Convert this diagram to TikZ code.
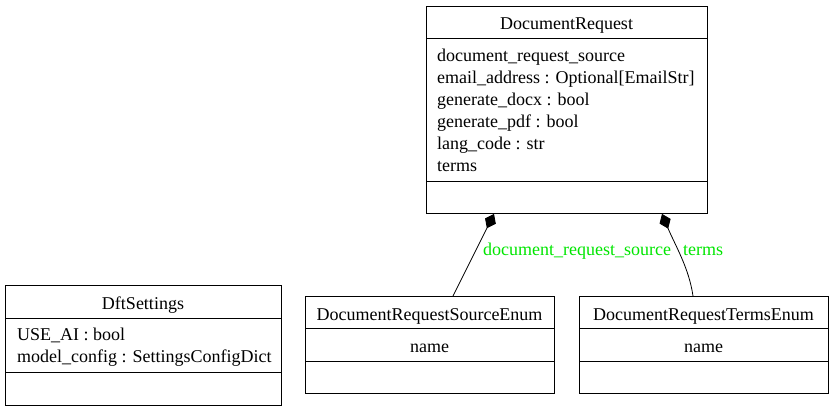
\documentclass[tikz,border=0pt]{standalone}
\usepackage{fontspec}
\setmainfont{Liberation Serif}
\usetikzlibrary{arrows.meta}
\definecolor{lblgreen}{RGB}{0,230,0}
\begin{document}
\begin{tikzpicture}[x=1pt,y=-1pt,
  font=\fontsize{18}{22}\selectfont,
  box/.style={draw, line width=0.9pt, inner sep=0pt, anchor=north west},
  divider/.style={line width=0.9pt},
  title/.style={inner sep=0pt, anchor=base},
  attr/.style={inner sep=0pt, anchor=base west},
  lbl/.style={inner sep=0pt, anchor=base west, text=lblgreen},
  comp/.style={line width=0.8pt, {Diamond[length=16pt,width=12pt]}-}]
\useasboundingbox (0,0) rectangle (830,411);

% DocumentRequest
\node[box, minimum width=281pt, minimum height=207pt] (dr) at (426,6) {};
\draw[divider] (426,38) -- (707,38);
\draw[divider] (426,181) -- (707,181);
\node[title] (drt) at (566.5,29.5) {DocumentRequest};
\node[attr] (dra1) at (437,61.5) {document\_request\_source};
\node[attr] (dra2) at (437,83.5) {email\_address : Optional[EmailStr]};
\node[attr] (dra3) at (437,105.5) {generate\_docx : bool};
\node[attr] (dra4) at (437,127.5) {generate\_pdf : bool};
\node[attr] (dra5) at (437,149.5) {lang\_code : str};
\node[attr] (dra6) at (437,171.5) {terms};

% DftSettings
\node[box, minimum width=276pt, minimum height=120pt] (dft) at (5,285) {};
\draw[divider] (5,318) -- (281,318);
\draw[divider] (5,372) -- (281,372);
\node[title] (dftt) at (143,310) {DftSettings};
\node[attr] (dfta1) at (17,341) {USE\_AI : bool};
\node[attr] (dfta2) at (17,362.5) {model\_config : SettingsConfigDict};

% DocumentRequestSourceEnum
\node[box, minimum width=249pt, minimum height=97pt] (src) at (305,296) {};
\draw[divider] (305,328) -- (554,328);
\draw[divider] (305,361) -- (554,361);
\node[title] (srct) at (429.5,320.5) {DocumentRequestSourceEnum};
\node[title] (srca) at (429.5,353) {name};

% DocumentRequestTermsEnum
\node[box, minimum width=249pt, minimum height=97pt] (trm) at (579,296) {};
\draw[divider] (579,328) -- (828,328);
\draw[divider] (579,361) -- (828,361);
\node[title] (trmt) at (703.5,320.5) {DocumentRequestTermsEnum};
\node[title] (trma) at (703.5,353) {name};

% connectors
\coordinate (s1) at (dr.south -| 494,0);
\coordinate (e1) at (src.north -| 453,0);
\coordinate (s2) at (dr.south -| 662,0);
\coordinate (e2) at (trm.north -| 693,0);
\draw[comp] (s1) -- (e1);
\draw[comp] (s2) .. controls (675,245) and (689,268) .. (e2);
\node[lbl] (l1) at (483,256) {document\_request\_source};
\node[lbl] (l2) at (683,256) {terms};
\end{tikzpicture}
\end{document}
